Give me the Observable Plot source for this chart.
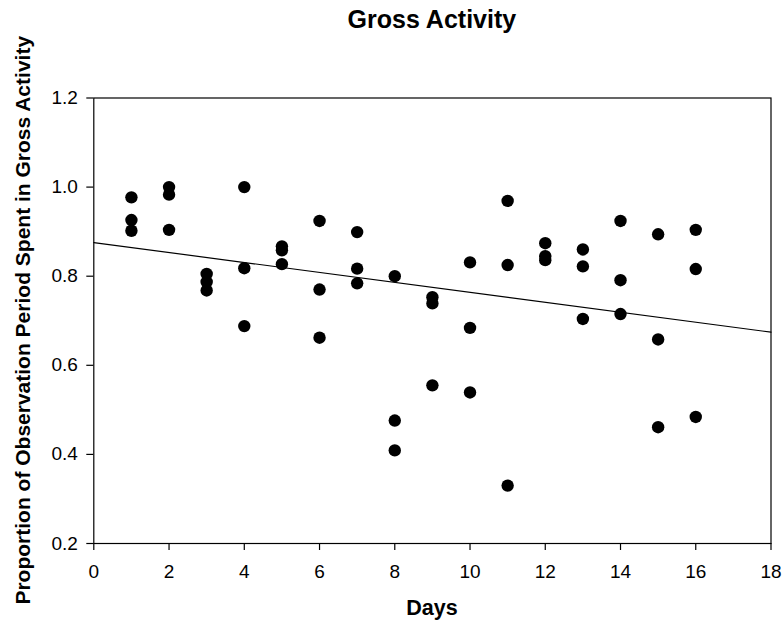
<!DOCTYPE html>
<html>
<head>
<meta charset="utf-8">
<script src="https://cdn.jsdelivr.net/npm/d3@7"></script>
<script src="https://cdn.jsdelivr.net/npm/@observablehq/plot@0.6"></script>
<style>
  html, body { margin: 0; padding: 0; background: #fff; }
  svg { display: block; }
</style>
</head>
<body>
<div id="chart"></div>
<script>
// ---- data ----
const days = [
  1, 1, 1,
  2, 2, 2,
  3, 3, 3,
  4, 4, 4,
  5, 5, 5,
  6, 6, 6,
  7, 7, 7,
  8, 8, 8,
  9, 9, 9,
  10, 10, 10,
  11, 11, 11,
  12, 12, 12,
  13, 13, 13,
  14, 14, 14,
  15, 15, 15,
  16, 16, 16
];
const proportions = [
  0.977, 0.926, 0.902,
  1.000, 0.983, 0.904,
  0.805, 0.787, 0.768,
  1.000, 0.818, 0.688,
  0.867, 0.858, 0.827,
  0.924, 0.770, 0.662,
  0.899, 0.817, 0.784,
  0.800, 0.476, 0.409,
  0.753, 0.739, 0.555,
  0.831, 0.684, 0.539,
  0.969, 0.825, 0.330,
  0.874, 0.845, 0.836,
  0.860, 0.822, 0.704,
  0.924, 0.791, 0.715,
  0.894, 0.658, 0.461,
  0.904, 0.816, 0.484
];
const xTicks = [0, 2, 4, 6, 8, 10, 12, 14, 16, 18];
const yTicks = [0.2, 0.4, 0.6, 0.8, 1.0, 1.2];
const xDomain = [0, 18];
const yDomain = [0.2, 1.2];
const titleText = "Gross Activity";
const xLabel = "Days";
const yLabel = "Proportion of Observation Period Spent in Gross Activity";

// ---- table + least-squares fit from the data ----
const points = days.map((d, i) => ({day: d, value: proportions[i]}));
const mx = d3.mean(days), my = d3.mean(proportions);
const sxy = d3.sum(points, p => (p.day - mx) * (p.value - my));
const sxx = d3.sum(points, p => (p.day - mx) ** 2);
const slope = sxy / sxx;
const intercept = my - slope * mx;
const fit = xDomain.map(x => ({day: x, value: intercept + slope * x}));

const W = 783, H = 621;
const font = "'Liberation Sans', Arial, Helvetica, sans-serif";

const chart = Plot.plot({
  width: W,
  height: H,
  marginTop: 97.5,
  marginBottom: 78,
  marginLeft: 93.3,
  marginRight: 12.5,
  style: {fontFamily: font, fontSize: "19px", color: "#000", background: "#fff", overflow: "visible"},
  x: {domain: xDomain},
  y: {domain: yDomain},
  marks: [
    Plot.frame({stroke: "#000", strokeWidth: 1.2}),
    Plot.axisX({ticks: xTicks, tickSize: 7, tickPadding: 14, label: null, fontSize: 19, tickFormat: d3.format("d"), stroke: "#000", strokeWidth: 1.2}),
    Plot.axisY({ticks: yTicks, tickSize: 7, tickPadding: 9, label: null, fontSize: 19, tickFormat: d3.format(".1f"), stroke: "#000", strokeWidth: 1.2}),
    Plot.line(fit, {x: "day", y: "value", stroke: "#000", strokeWidth: 1.2}),
    Plot.dot(points, {x: "day", y: "value", r: 6.2, fill: "#000", stroke: "none"})
  ]
});

const svg = d3.select(chart);
const cx = 93.3 + (W - 12.5 - 93.3) / 2;
const cy = 97.5 + (H - 78 - 97.5) / 2;
svg.append("text")
  .attr("x", cx).attr("y", 28)
  .attr("text-anchor", "middle")
  .attr("font-family", font).attr("font-weight", "bold").attr("font-size", 25)
  .attr("fill", "#000")
  .text(titleText);
svg.append("text")
  .attr("x", cx).attr("y", 615)
  .attr("text-anchor", "middle")
  .attr("font-family", font).attr("font-weight", "bold").attr("font-size", 21.5)
  .attr("fill", "#000")
  .text(xLabel);
svg.append("text")
  .attr("transform", `translate(30,${cy}) rotate(-90)`)
  .attr("text-anchor", "middle")
  .attr("font-family", font).attr("font-weight", "bold").attr("font-size", 21)
  .attr("fill", "#000")
  .text(yLabel);

document.getElementById("chart").appendChild(chart);
</script>
</body>
</html>
